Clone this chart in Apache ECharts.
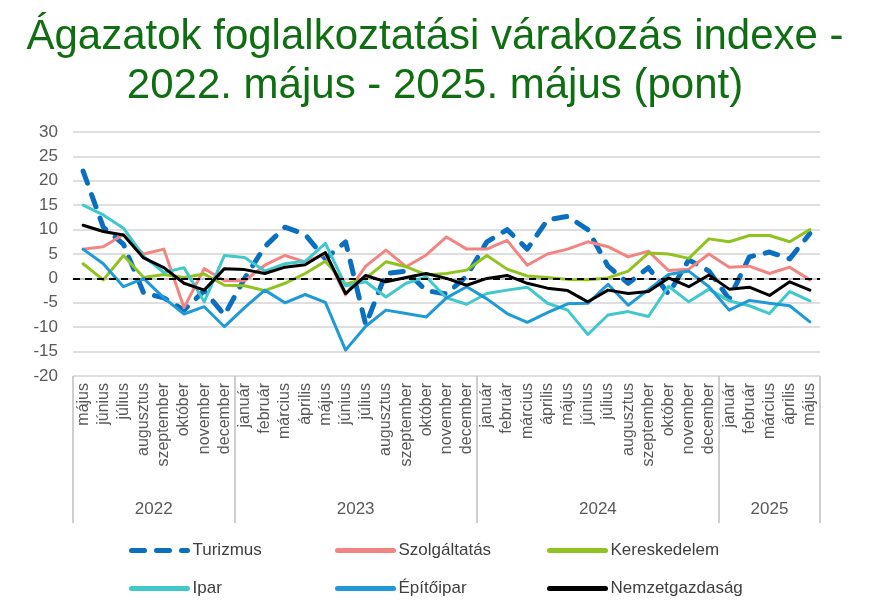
<!DOCTYPE html>
<html>
<head>
<meta charset="utf-8">
<script src="https://cdn.jsdelivr.net/npm/echarts@6/dist/echarts.min.js"></script>
<style>
  html, body { margin: 0; padding: 0; background: #fff; }
  #chart { width: 870px; height: 606px; }
</style>
</head>
<body>
<div id="chart"></div>
<script>
var months = ['május','június','július','augusztus','szeptember','október','november','december',
  'január','február','március','április','május','június','július','augusztus','szeptember','október','november','december',
  'január','február','március','április','május','június','július','augusztus','szeptember','október','november','december',
  'január','február','március','április','május'];
var years = ['2022','2023','2024','2025'];
var yearSpans = [8, 12, 12, 5];

var turizmus = [22, 10.5, 7, -3, -4, -6.5, -2.5, -7.5, 0, 6.5, 10.5, 9, 4, 7.5, -9.5, 1, 1.5, -2.5, -3.2, 0.5, 7.5, 10, 6, 12, 12.7, 10, 2.5, -1, 2.2, -3.2, 3.8, 1.5, -4.2, 4.4, 5.4, 4, 9.2];
var szolgaltatas = [6, 6.5, 9, 5, 6, -6, 2, -0.5, -0.5, 2.7, 4.7, 3.4, 5, -3.4, 2.5, 5.8, 2.4, 4.8, 8.5, 6, 6, 7.8, 2.7, 5, 6, 7.5, 6.5, 4.4, 5.6, 1.6, 1.9, 5, 2.3, 2.5, 1, 2.3, -0.3];
var kereskedelem = [3, -0.3, 4.7, 0.2, 0.8, 0.2, 0.9, -1.4, -1.5, -2.5, -1, 1, 3.5, -1.2, 0, 3.4, 2.4, 0.7, 1, 1.7, 4.7, 1.9, 0.5, 0.2, -0.2, -0.3, 0.1, 1.5, 5.2, 5, 4.1, 8.1, 7.5, 8.8, 8.8, 7.5, 10];
var ipar = [15, 13, 10.3, 4.5, 1.2, 2.2, -4.8, 4.7, 4.3, 1.5, 3, 3.5, 7.2, -1.5, -0.7, -3.8, -1, 0.3, -4, -5.3, -3.1, -2.4, -1.8, -5.1, -6.5, -11.5, -7.5, -6.8, -7.8, -1.6, -4.8, -2.2, -4.6, -5.6, -7.2, -2.7, -4.6];
var epitoipar = [6, 3, -1.7, 0, -4, -7.3, -5.8, -9.9, -6, -2.4, -5, -3.3, -4.9, -14.7, -9.8, -6.5, -7.2, -7.9, -4, -1.7, -4.2, -7.2, -9, -7, -5.2, -5.1, -1.2, -5.5, -2.3, 0.8, 1.5, -1.7, -6.5, -4.5, -5.1, -5.6, -8.9];
var nemzetgazdasag = [10.9, 9.6, 8.9, 4.2, 2.2, -1, -2.4, 2, 1.8, 1, 2.3, 2.8, 5.3, -3.1, 0.6, -0.7, 0.2, 1, 0, -1.4, 0, 0.6, -1, -2, -2.5, -4.8, -2.4, -3.1, -2.7, 0.1, -1.7, 0.7, -2.2, -1.8, -3.5, -0.7, -2.4];

(function() {
  var font = "'Liberation Sans', Arial, sans-serif";
  var labelColor = '#595959';
  var rule = '#d4d4d4';

  // year group boundaries and centres on a 0..months.length value scale
  var bounds = [0], centres = [], yearAt = {};
  yearSpans.forEach(function(n, i) {
    var start = bounds[bounds.length - 1];
    bounds.push(start + n);
    var c = start + n / 2;
    centres.push(c);
    yearAt[c] = years[i];
  });

  function line(name, data, color, extra) {
    var s = {
      name: name, type: 'line', data: data, xAxisIndex: 0,
      symbol: 'none', smooth: false,
      lineStyle: {width: 3, color: color, cap: 'round', join: 'round'},
      itemStyle: {color: color}
    };
    for (var k in extra) s[k] = extra[k];
    return s;
  }

  function legendItem(name, left, top) {
    return {
      data: [name], left: left, top: top, padding: 0,
      itemWidth: 56, itemHeight: 14,
      itemStyle: {opacity: 0},
      lineStyle: {width: 5, cap: 'round'},
      textStyle: {fontSize: 17, color: '#404040', fontFamily: font}
    };
  }

  var chart = echarts.init(document.getElementById('chart'), null, {renderer: 'canvas'});
  chart.setOption({
    animation: false,
    textStyle: {fontFamily: font},
    title: {
      text: 'Ágazatok foglalkoztatási várakozás indexe -\n2022. május - 2025. május (pont)',
      left: 'center', top: 8,
      textStyle: {fontSize: 42, lineHeight: 49, color: '#0f6e12', fontWeight: 'normal', fontFamily: font}
    },
    legend: [
      legendItem('Turizmus', 129, 542),
      legendItem('Szolgáltatás', 335, 542),
      legendItem('Kereskedelem', 547, 542),
      legendItem('Ipar', 129, 580),
      legendItem('Építőipar', 335, 580),
      legendItem('Nemzetgazdaság', 547, 580)
    ],
    grid: {left: 73, right: 50, top: 132, bottom: 230},
    xAxis: [
      {
        type: 'category', data: months, position: 'bottom',
        axisLine: {lineStyle: {color: '#bfbfbf', width: 1.5}},
        axisTick: {show: false},
        axisLabel: {interval: 0, rotate: 90, margin: 7, fontSize: 16, color: labelColor, fontFamily: font}
      },
      {
        type: 'value', min: 0, max: months.length, position: 'bottom', offset: 0,
        axisLine: {show: false},
        splitLine: {show: false},
        axisTick: {show: true, customValues: bounds, length: 147, inside: false, lineStyle: {color: '#bfbfbf', width: 1.5}},
        axisLabel: {
          show: true, customValues: centres, margin: 125, fontSize: 17, color: labelColor, fontFamily: font,
          formatter: function(v) { return yearAt[v] || ''; }
        }
      }
    ],
    yAxis: {
      type: 'value', min: -20, max: 30, interval: 5,
      axisLine: {show: false}, axisTick: {show: false},
      axisLabel: {fontSize: 17, color: labelColor, margin: 15, fontFamily: font},
      splitLine: {lineStyle: {color: rule, width: 1.5}}
    },
    series: [
      line('Turizmus', turizmus, '#0b6fbf', {lineStyle: {width: 5, color: '#0b6fbf', type: [13, 12], cap: 'round', join: 'round'}}),
      line('Szolgáltatás', szolgaltatas, '#f28482'),
      line('Kereskedelem', kereskedelem, '#8fc31f'),
      line('Ipar', ipar, '#40c8cc'),
      line('Építőipar', epitoipar, '#1f9ad6'),
      line('Nemzetgazdaság', nemzetgazdasag, '#000000', {
        markLine: {
          silent: true, symbol: 'none', label: {show: false},
          lineStyle: {color: '#000', type: [7, 5], width: 1.8},
          data: [{yAxis: 0}]
        }
      })
    ]
  });
})();
</script>
</body>
</html>
